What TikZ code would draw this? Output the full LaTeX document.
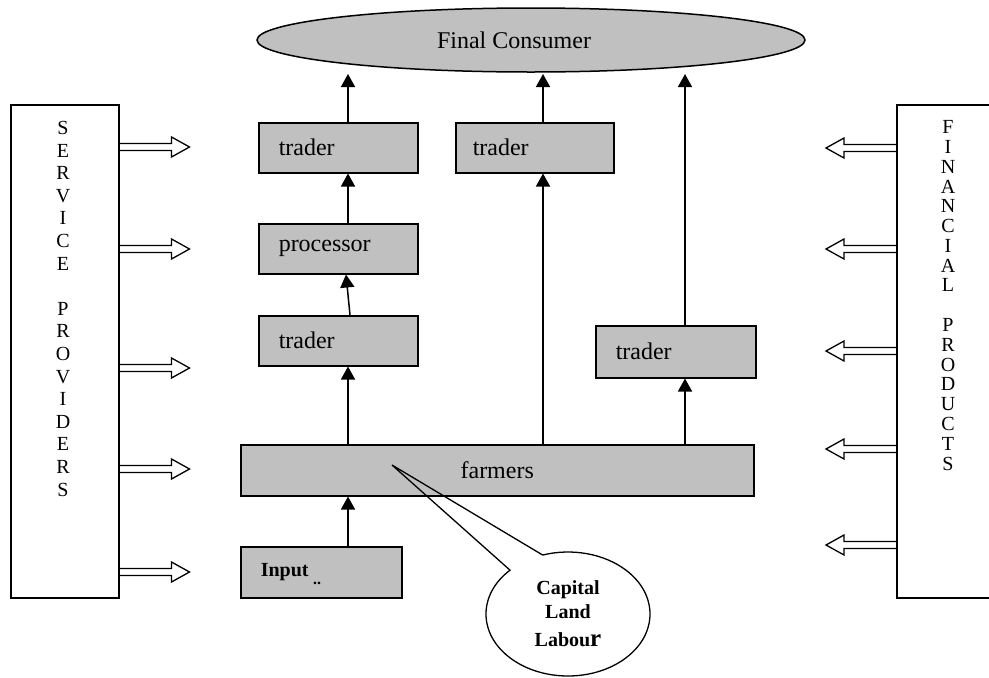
\documentclass[tikz,border=0pt]{standalone}
\usepackage{fontspec}
\setmainfont{Liberation Serif}
\usetikzlibrary{arrows.meta,shapes.geometric,calc}
\definecolor{boxgray}{HTML}{C0C0C0}
\begin{document}
\begin{tikzpicture}[x=1pt,y=-1pt,
  box/.style={draw, line width=1.5pt, fill=boxgray, minimum height=50pt, anchor=north west,
    inner xsep=20pt, inner ysep=0pt, align=left, font=\fontsize{24}{28}\selectfont},
  arr/.style={line width=1.5pt, -{Triangle[length=13pt,width=14pt]}},
  hol/.style={line width=1.3pt, line join=miter},
  side/.style={draw, line width=1.5pt, minimum height=493pt, anchor=north west, inner sep=0pt},
  vl/.style={font=\fontsize{20}{23}\selectfont, inner sep=0pt},
  hollowR/.pic={\draw[hol] (0,-3.5) -- (52,-3.5) -- (52,-10) -- (70,0) -- (52,10) -- (52,3.5) -- (0,3.5);},
]
\useasboundingbox (0,0) rectangle (989,678);

% consumer ellipse
\node[draw, ellipse, fill=boxgray, line width=1.5pt, minimum width=548pt, minimum height=64pt,
  inner sep=0pt, font=\fontsize{24}{28}\selectfont] (cons) at (531,40) {\kern-34pt Final Consumer};

% side boxes
\node[side, minimum width=108pt] (sp) at (10,104) {};
\node[side, minimum width=104pt] (fp) at (896,104) {};
\foreach \l [count=\i] in {S,E,R,V,I,C,E,,P,R,O,V,I,D,E,R,S}
  \node[vl] at (63,{128+22.6*(\i-1)}) {\l};
\foreach \l [count=\i] in {F,I,N,A,N,C,I,A,L,,P,R,O,D,U,C,T,S}
  \node[vl] at (948,{127+19.8*(\i-1)}) {\l};

% chain boxes
\node[box, text width=119pt] (lt1) at (258,122) {trader};
\node[box, text width=119pt] (proc) at (258,223) {processor};
\node[box, text width=119pt] (lt3) at (258,315) {trader};
\node[box, inner xsep=17pt, text width=124pt] (mt) at (455,122) {trader};
\node[box, text width=120pt, minimum height=52pt] (rt) at (595,325) {trader};
\node[box, text width=473pt, align=center, minimum height=51pt] (farm) at (240,444) {farmers};
\node[box, text width=121pt, minimum height=51pt, font=\bfseries\fontsize{20}{22}\selectfont] (inp) at (240,546) {Input};
\node[font=\bfseries\fontsize{16}{16}\selectfont, inner sep=0pt] (dots) at (317,583) {..};

% arrow columns
\coordinate (xa) at (348,0);
\coordinate (xb) at (543,0);
\coordinate (xc) at (685,0);
\coordinate (ta) at (348,74);
\coordinate (tb) at (543,74);
\coordinate (tc) at (685,74);

\draw[arr] (lt1.north -| xa) -- (ta);
\draw[arr] (proc.north -| xa) -- (lt1.south -| xa);
\draw[arr] ($(lt3.north west)+(92,0)$) -- ($(proc.south west)+(88,0)$);
\draw[arr] (farm.north -| xa) -- (lt3.south -| xa);
\draw[arr] (inp.north -| xa) -- (farm.south -| xa);
\draw[arr] (mt.north -| xb) -- (tb);
\draw[arr] (farm.north -| xb) -- (mt.south -| xb);
\draw[arr] (rt.north -| xc) -- (tc);
\draw[arr] (farm.north -| xc) -- (rt.south -| xc);

% hollow arrows
\foreach \yy in {147,249,368,469,572}
  \pic at (sp.east |- 0,\yy) {hollowR};
\foreach \yy in {148,249,351,449,545}
  \pic[rotate=180] at (fp.west |- 0,\yy) {hollowR};

% callout
\coordinate (ctip) at (392,465);
\coordinate (bc) at (568,614);
\draw[line width=1.3pt, line join=miter] ($(bc)+(252:82 and 62)$) -- (ctip) -- ($(bc)+(225:82 and 62)$)
  arc[start angle=225, end angle=-108, x radius=82, y radius=62];
\node[font=\bfseries\fontsize{20}{24}\selectfont, align=center, inner sep=0pt] (cap) at (bc)
  {Capital\\Land\\[4pt]Labou{\fontsize{25}{24}\selectfont r}};
\end{tikzpicture}
\end{document}
